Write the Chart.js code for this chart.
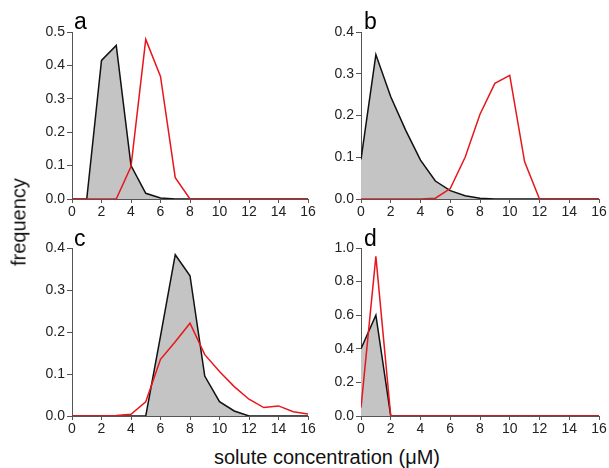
<!DOCTYPE html>
<html>
<head>
<meta charset="utf-8">
<script src="https://cdn.jsdelivr.net/npm/chart.js@4.4.0/dist/chart.umd.min.js"></script>
<style>
  body { margin: 0; background: #fff; font-family: "Liberation Sans", Arial, sans-serif; }
  #wrap { position: relative; width: 609px; height: 468px; overflow: hidden; }
  canvas { position: absolute; }
  .letter { position: absolute; font-size: 23px; line-height: 22px; color: #000; }
  .ytitle { position: absolute; left: 19px; top: 222px; font-size: 20px; color: #111;
            transform: translate(-50%, -50%) rotate(-90deg); white-space: nowrap; }
  .xtitle { position: absolute; left: 327px; top: 446px; font-size: 20px; line-height: 22px; color: #111;
            transform: translateX(-50%); white-space: nowrap; }
</style>
</head>
<body>
<div id="wrap">
  <canvas id="pa" width="320" height="225" style="left:0;top:0"></canvas>
  <canvas id="pb" width="319" height="225" style="left:290px;top:0"></canvas>
  <canvas id="pc" width="320" height="215" style="left:0;top:225px"></canvas>
  <canvas id="pd" width="319" height="215" style="left:290px;top:225px"></canvas>
  <div class="letter" style="left:74px;top:10px">a</div>
  <div class="letter" style="left:364px;top:10px">b</div>
  <div class="letter" style="left:74px;top:227px">c</div>
  <div class="letter" style="left:364px;top:227px">d</div>
  <div class="ytitle">frequency</div>
  <div class="xtitle">solute concentration (μM)</div>
</div>
<script>
// solute concentration (uM)
const conc = [0, 1, 2, 3, 4, 5, 6, 7, 8, 9, 10, 11, 12, 13, 14, 15, 16];

// panel a
const aGray = [0, 0, 0.415, 0.46, 0.10, 0.017, 0.003, 0, 0, 0, 0, 0, 0, 0, 0, 0, 0];
const aRed = [0, 0, 0, 0, 0.097, 0.478, 0.367, 0.064, 0, 0, 0, 0, 0, 0, 0, 0, 0];
// panel b
const bGray = [0.095, 0.346, 0.245, 0.165, 0.093, 0.043, 0.02, 0.008, 0.002, 0, 0, 0, 0, 0, 0, 0, 0];
const bRed = [0, 0, 0, 0, 0, 0.002, 0.025, 0.1, 0.203, 0.277, 0.296, 0.089, 0, 0, 0, 0, 0];
// panel c
const cGray = [0, 0, 0, 0, 0, 0, 0.19, 0.384, 0.334, 0.095, 0.034, 0.012, 0, 0, 0, 0, 0];
const cRed = [0, 0, 0, 0.001, 0.004, 0.034, 0.135, 0.177, 0.221, 0.146, 0.106, 0.07, 0.04, 0.02, 0.024, 0.01, 0.005];
// panel d
const dGray = [0.4, 0.6, 0, 0, 0, 0, 0, 0, 0, 0, 0, 0, 0, 0, 0, 0, 0];
const dRed = [0.05, 0.95, 0, 0, 0, 0, 0, 0, 0, 0, 0, 0, 0, 0, 0, 0, 0];

const xTicks = { min: 0, max: 16, step: 2 };
const yMaxA = 0.5, yMaxB = 0.4, yMaxC = 0.4, yMaxD = 1.0;
const yStepA = 0.1, yStepB = 0.1, yStepC = 0.1, yStepD = 0.2;

const axisColor = "#555";
const tickFont = { family: "'Liberation Sans', Arial, sans-serif", size: 14 };

function pts(vals) {
  return conc.map((x, i) => ({ x: x, y: vals[i] }));
}

function makePanel(id, gray, red, yMax, yStep, pad, yW, xH) {
  new Chart(document.getElementById(id), {
    type: "line",
    data: {
      datasets: [
        {
          data: pts(red),
          borderColor: "#e8161b",
          borderWidth: 1.5,
          pointRadius: 0,
          fill: false,
          tension: 0
        },
        {
          data: pts(gray),
          borderColor: "#111",
          borderWidth: 1.5,
          backgroundColor: "#c4c4c4",
          pointRadius: 0,
          fill: "origin",
          tension: 0
        }
      ]
    },
    options: {
      responsive: false,
      animation: false,
      layout: { padding: pad },
      plugins: { legend: { display: false }, tooltip: { enabled: false } },
      scales: {
        x: {
          type: "linear",
          min: xTicks.min,
          max: xTicks.max,
          afterFit: s => { s.height = xH; },
          grid: { drawOnChartArea: false, tickLength: 4, color: axisColor },
          border: { color: axisColor, width: 1 },
          ticks: { stepSize: xTicks.step, padding: 1, color: "#222", font: tickFont, maxRotation: 0 }
        },
        y: {
          min: 0,
          max: yMax,
          afterFit: s => { s.width = yW; },
          grid: { drawOnChartArea: false, tickLength: 5, color: axisColor },
          border: { color: axisColor, width: 1 },
          ticks: {
            stepSize: yStep,
            padding: 2,
            color: "#222",
            font: tickFont,
            callback: v => Number(v).toFixed(1)
          }
        }
      }
    }
  });
}

makePanel("pa", aGray, aRed, yMaxA, yStepA, { left: 0, right: 12, top: 32, bottom: 0 }, 72, 26);
makePanel("pb", bGray, bRed, yMaxB, yStepB, { left: 0, right: 10, top: 32, bottom: 0 }, 71, 26);
makePanel("pc", cGray, cRed, yMaxC, yStepC, { left: 0, right: 12, top: 23, bottom: 0 }, 72, 24);
makePanel("pd", dGray, dRed, yMaxD, yStepD, { left: 0, right: 10, top: 23, bottom: 0 }, 71, 24);
</script>
</body>
</html>
